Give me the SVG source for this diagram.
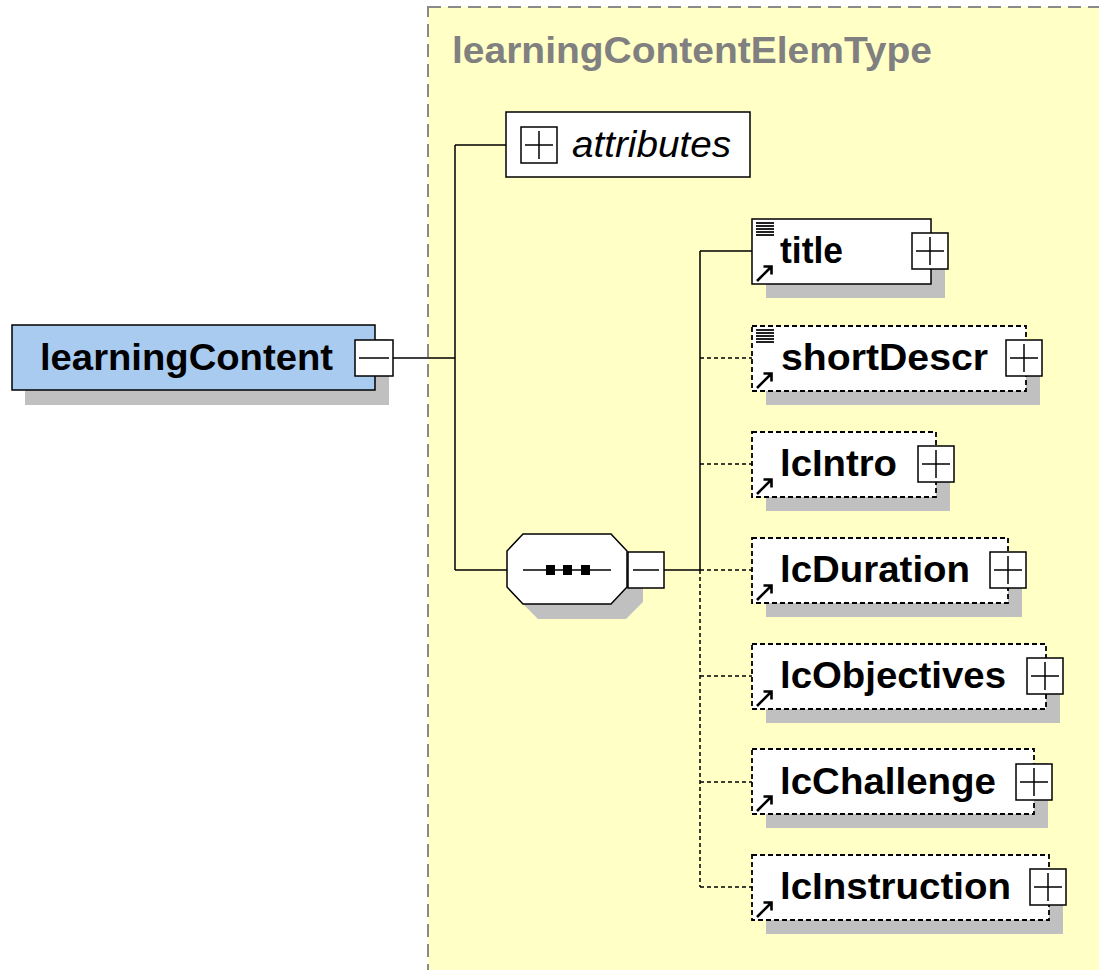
<svg xmlns="http://www.w3.org/2000/svg" width="1099" height="970" viewBox="0 0 1099 970">
<style>
.shadow{fill:#c0c0c0;stroke:none}
.box{fill:#fff;stroke:#000;stroke-width:1.5}
.opt{fill:#fff;stroke:#000;stroke-width:1.8;stroke-dasharray:5 3}
.line{fill:none;stroke:#000;stroke-width:1.5}
.dline{fill:none;stroke:#000;stroke-width:1.5;stroke-dasharray:4 3}
.lbl{font-family:"Liberation Sans",Arial,sans-serif;font-weight:bold;font-size:37px;fill:#000}
.icon{fill:none;stroke:#000;stroke-width:2.6}
</style>
<defs>
<g id="plus"><rect x="0" y="0" width="36" height="36" fill="#fff" stroke="#000" stroke-width="1.5"/><path d="M4 18H32M18 4V32" stroke="#000" stroke-width="1.5"/></g>
<g id="arrow"><path d="M5 62L19 48M11.5 47.5H19.5V55.5" class="icon"/></g>
<g id="lines"><path d="M4 4H22M4 7H22M4 10H22M4 13H22M4 16H22" stroke="#222" stroke-width="1.8"/></g>
</defs>
<rect x="428" y="7" width="680" height="975" fill="#ffffc6" stroke="#8a8a8a" stroke-width="2" stroke-dasharray="13 7"/>
<text x="452" y="63" font-family="Liberation Sans, Arial, sans-serif" font-weight="bold" font-size="37" fill="#808080" textLength="480" lengthAdjust="spacingAndGlyphs">learningContentElemType</text>
<g id="connectors">
<path class="line" d="M393 358H455M455 145V570M455 145H506M455 570H508"/>
<path class="line" d="M664 570H700M700 251V570M700 251H752"/>
<path class="dline" d="M700 570V887M700 358H752M700 464H752M700 570H752M700 676H752M700 782H752M700 887H752"/>
</g>
<g id="learningContent">
<rect class="shadow" x="25" y="339" width="364" height="66"/>
<rect x="12" y="325" width="363" height="65" fill="#a9cbf0" stroke="#000" stroke-width="1.5"/>
<text class="lbl" x="40" y="370" textLength="293" lengthAdjust="spacingAndGlyphs">learningContent</text>
<rect x="355" y="340" width="38" height="36" fill="#fff" stroke="#000" stroke-width="1.5"/>
<path class="line" d="M359 358H389"/>
</g>
<g id="attributes">
<rect class="box" x="506" y="112" width="244" height="65"/>
<use href="#plus" x="521" y="127"/>
<text x="572" y="157" font-family="Liberation Sans, Arial, sans-serif" font-style="italic" font-size="37" fill="#000" textLength="159" lengthAdjust="spacingAndGlyphs">attributes</text>
</g>
<g id="sequence">
<polygon class="shadow" points="538,567 626,567 643,584 643,602 626,619 538,619 521,602 521,584"/>
<polygon points="523,534 611,534 627,551 627,587 611,604 523,604 507,587 507,551" fill="#fff" stroke="#000" stroke-width="1.5"/>
<path class="line" d="M523 570H611"/>
<rect x="546" y="565" width="9" height="10" fill="#000"/>
<rect x="563" y="565" width="9" height="10" fill="#000"/>
<rect x="581" y="565" width="9" height="10" fill="#000"/>
<rect x="628" y="552" width="36" height="36" fill="#fff" stroke="#000" stroke-width="1.5"/>
<path class="line" d="M633 570H659"/>
</g>
<g id="title">
<rect class="shadow" x="766" y="233" width="179" height="65"/>
<rect class="box" x="752" y="219" width="179" height="65"/>
<use href="#lines" x="752" y="219"/>
<use href="#arrow" x="752" y="219"/>
<text class="lbl" x="780" y="263" textLength="63" lengthAdjust="spacingAndGlyphs">title</text>
<use href="#plus" x="912" y="233"/>
</g>
<g id="shortDescr">
<rect class="shadow" x="766" y="340" width="274" height="65"/>
<rect class="opt" x="752" y="326" width="274" height="65"/>
<use href="#lines" x="752" y="326"/>
<use href="#arrow" x="752" y="326"/>
<text class="lbl" x="781" y="370" textLength="207" lengthAdjust="spacingAndGlyphs">shortDescr</text>
<use href="#plus" x="1006" y="340"/>
</g>
<g id="lcIntro">
<rect class="shadow" x="766" y="446" width="184" height="65"/>
<rect class="opt" x="752" y="432" width="184" height="65"/>
<use href="#arrow" x="752" y="432"/>
<text class="lbl" x="780" y="476" textLength="117" lengthAdjust="spacingAndGlyphs">lcIntro</text>
<use href="#plus" x="918" y="446"/>
</g>
<g id="lcDuration">
<rect class="shadow" x="766" y="552" width="256" height="65"/>
<rect class="opt" x="752" y="538" width="256" height="65"/>
<use href="#arrow" x="752" y="538"/>
<text class="lbl" x="780" y="582" textLength="190" lengthAdjust="spacingAndGlyphs">lcDuration</text>
<use href="#plus" x="990" y="552"/>
</g>
<g id="lcObjectives">
<rect class="shadow" x="766" y="658" width="294" height="65"/>
<rect class="opt" x="752" y="644" width="294" height="65"/>
<use href="#arrow" x="752" y="644"/>
<text class="lbl" x="780" y="688" textLength="226" lengthAdjust="spacingAndGlyphs">lcObjectives</text>
<use href="#plus" x="1027" y="658"/>
</g>
<g id="lcChallenge">
<rect class="shadow" x="766" y="763" width="282" height="65"/>
<rect class="opt" x="752" y="749" width="282" height="65"/>
<use href="#arrow" x="752" y="749"/>
<text class="lbl" x="780" y="794" textLength="216" lengthAdjust="spacingAndGlyphs">lcChallenge</text>
<use href="#plus" x="1016" y="764"/>
</g>
<g id="lcInstruction">
<rect class="shadow" x="766" y="869" width="297" height="65"/>
<rect class="opt" x="752" y="855" width="297" height="65"/>
<use href="#arrow" x="752" y="855"/>
<text class="lbl" x="780" y="899" textLength="231" lengthAdjust="spacingAndGlyphs">lcInstruction</text>
<use href="#plus" x="1030" y="869"/>
</g>
</svg>
